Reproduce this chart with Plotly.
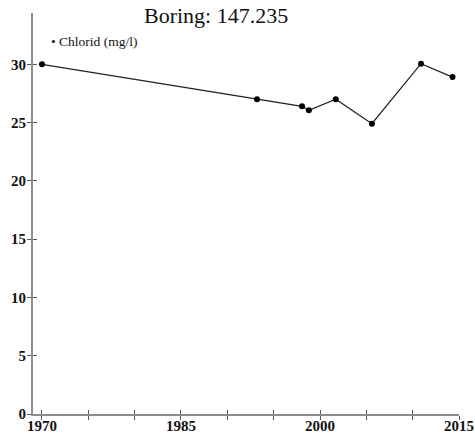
import plotly.graph_objects as go

years = [1970.0, 1993.2, 1998.06, 1998.8, 2001.7, 2005.6, 2010.9, 2014.3]
chlorid = [30.0, 27.0, 26.4, 26.05, 27.0, 24.9, 30.05, 28.9]
series_name = "Chlorid (mg/l)"
title_text = "Boring: 147.235"
x_major = [1970, 1985, 2000, 2015]
y_ticks = [0, 5, 10, 15, 20, 25, 30]

fig = go.Figure()
fig.add_trace(go.Scatter(
    x=years, y=chlorid, mode="lines+markers", name=series_name, showlegend=False,
    line=dict(color="#222222", width=1.3),
    marker=dict(color="#000000", size=6),
))
# invisible trace on overlay axis for cross ticks
fig.add_trace(go.Scatter(x=[years[0]], y=[chlorid[0]], xaxis="x2", yaxis="y2",
                         mode="markers", marker=dict(opacity=0), showlegend=False,
                         hoverinfo="skip"))

axis_color = "#8c8c8c"
fig.update_layout(
    width=475, height=435,
    margin=dict(l=33, r=16, t=13, b=21),
    paper_bgcolor="white", plot_bgcolor="white",
    title=dict(text=title_text, x=0.455, xanchor="center", y=0.965, yanchor="middle",
               font=dict(family="Liberation Serif", size=22, color="#111111")),
    showlegend=False,
    annotations=[dict(text="\u2022 " + series_name, xref="paper", yref="paper",
                      x=0.038, y=0.93, xanchor="left", yanchor="middle", showarrow=False,
                      font=dict(family="Liberation Serif", size=13.5, color="#111111"))],
    xaxis=dict(range=[1969.03, 2015.0], showgrid=False, zeroline=False, automargin=False,
               showline=True, linecolor=axis_color, linewidth=2,
               tickvals=x_major, ticktext=[str(v) for v in x_major],
               ticks="outside", ticklen=4, tickcolor="#555555", tickwidth=1,
               ticklabelstandoff=-7,
               minor=dict(dtick=5, tick0=1970, ticks="outside", ticklen=4, tickcolor="#555555"),
               tickfont=dict(family="Liberation Serif", size=15, color="#111111", weight="bold")),
    yaxis=dict(range=[0, 34.4], showgrid=False, zeroline=False, automargin=False,
               showline=True, linecolor=axis_color, linewidth=2,
               tickvals=y_ticks, ticks="outside", ticklen=4, tickcolor="#555555",
               ticklabelstandoff=-2,
               tickfont=dict(family="Liberation Serif", size=15, color="#111111", weight="bold")),
    xaxis2=dict(overlaying="x", range=[1969.03, 2015.0], showgrid=False, zeroline=False,
                automargin=False, showticklabels=False, tickvals=x_major, ticks="inside",
                ticklen=4, tickcolor="#555555",
                minor=dict(dtick=5, tick0=1970, ticks="inside", ticklen=4, tickcolor="#555555")),
    yaxis2=dict(overlaying="y", range=[0, 34.4], showgrid=False, zeroline=False,
                automargin=False, showticklabels=False, tickvals=y_ticks, ticks="inside",
                ticklen=4, tickcolor="#555555"),
)
fig.write_html("out.html", config={"displayModeBar": False},
               post_script="document.body.style.margin='0';")
